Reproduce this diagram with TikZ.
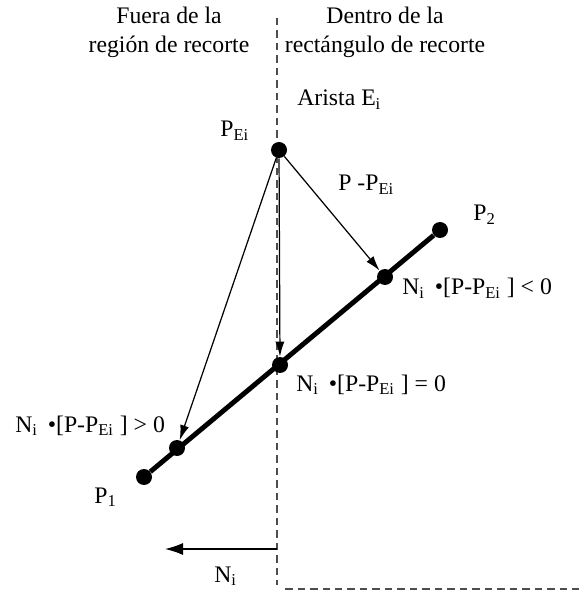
\documentclass[tikz,border=0pt]{standalone}
\usepackage{fontspec}
\setmainfont{Liberation Serif}
\usetikzlibrary{arrows.meta}
\definecolor{edgegray}{HTML}{4D4D4D}

\begin{document}
\begin{tikzpicture}[
  x=0.02cm,y=-0.02cm,
  font=\fontsize{13.5}{16.3}\selectfont,
  dot/.style={circle,fill=black,inner sep=0pt,minimum size=0.32cm},
  lbl/.style={inner sep=0pt,anchor=base west},
  ttl/.style={inner sep=0pt,align=center,anchor=north},
  arr/.style={-{Latex[length=0.3cm,width=0.18cm]},line width=.7pt},
  normarr/.style={-{Latex[length=0.36cm,width=0.24cm]},line width=.7pt},
  seg/.style={line width=2.8pt},
  edgeline/.style={dash pattern=on 0.15cm off 0.1cm,line width=.65pt,color=edgegray}
]
\useasboundingbox (0,0) rectangle (579,590);
\coordinate (etop) at (277,18);
\coordinate (ebot) at (277,585);
\coordinate (rleft) at (285,589);
\coordinate (rright) at (579,589);
\draw[edgeline] (etop) -- (ebot);
\draw[edgeline] (rleft) -- (rright);
\node[ttl] (outside) at (169,7) {Fuera de la\\región de recorte};
\node[ttl] (inside) at (385,7) {Dentro de la\\rectángulo de recorte};
\node[lbl] (arista) at (297,106) {Arista E\textsubscript{i}};
\node[dot] (pe) at (279,150) {};
\node[dot] (p2) at (440,230) {};
\node[dot] (q2) at (385,277) {};
\node[dot] (q0) at (280,365) {};
\node[dot] (q1) at (177,448) {};
\node[dot] (p1) at (144,477) {};
\node[lbl] (pelbl) at (220,137) {P\textsubscript{Ei}};
\node[lbl] (difflbl) at (338,191) {P -P\textsubscript{Ei}};
\node[lbl] (p2lbl) at (473,221) {P\textsubscript{2}};
\node[lbl] (ltlbl) at (402,295) {N\textsubscript{i}\ \,•[P-P\textsubscript{Ei}\ ] < 0};
\node[lbl] (eqlbl) at (296,391) {N\textsubscript{i}\ \,•[P-P\textsubscript{Ei}\ ] = 0};
\node[lbl] (gtlbl) at (15,432) {N\textsubscript{i}\ \,•[P-P\textsubscript{Ei}\ ] > 0};
\node[lbl] (p1lbl) at (94,503) {P\textsubscript{1}};
\node[lbl] (nlbl) at (214,582) {N\textsubscript{i}};
\draw[seg] (p1) -- (p2);
\draw[arr] (pe) -- (q2);
\draw[arr] (pe) -- (q0);
\draw[arr] (pe) -- (q1);
\coordinate (nbase) at (277,549);
\coordinate (ntip) at (165,549);
\draw[normarr] (nbase) -- (ntip);
\end{tikzpicture}
\end{document}
